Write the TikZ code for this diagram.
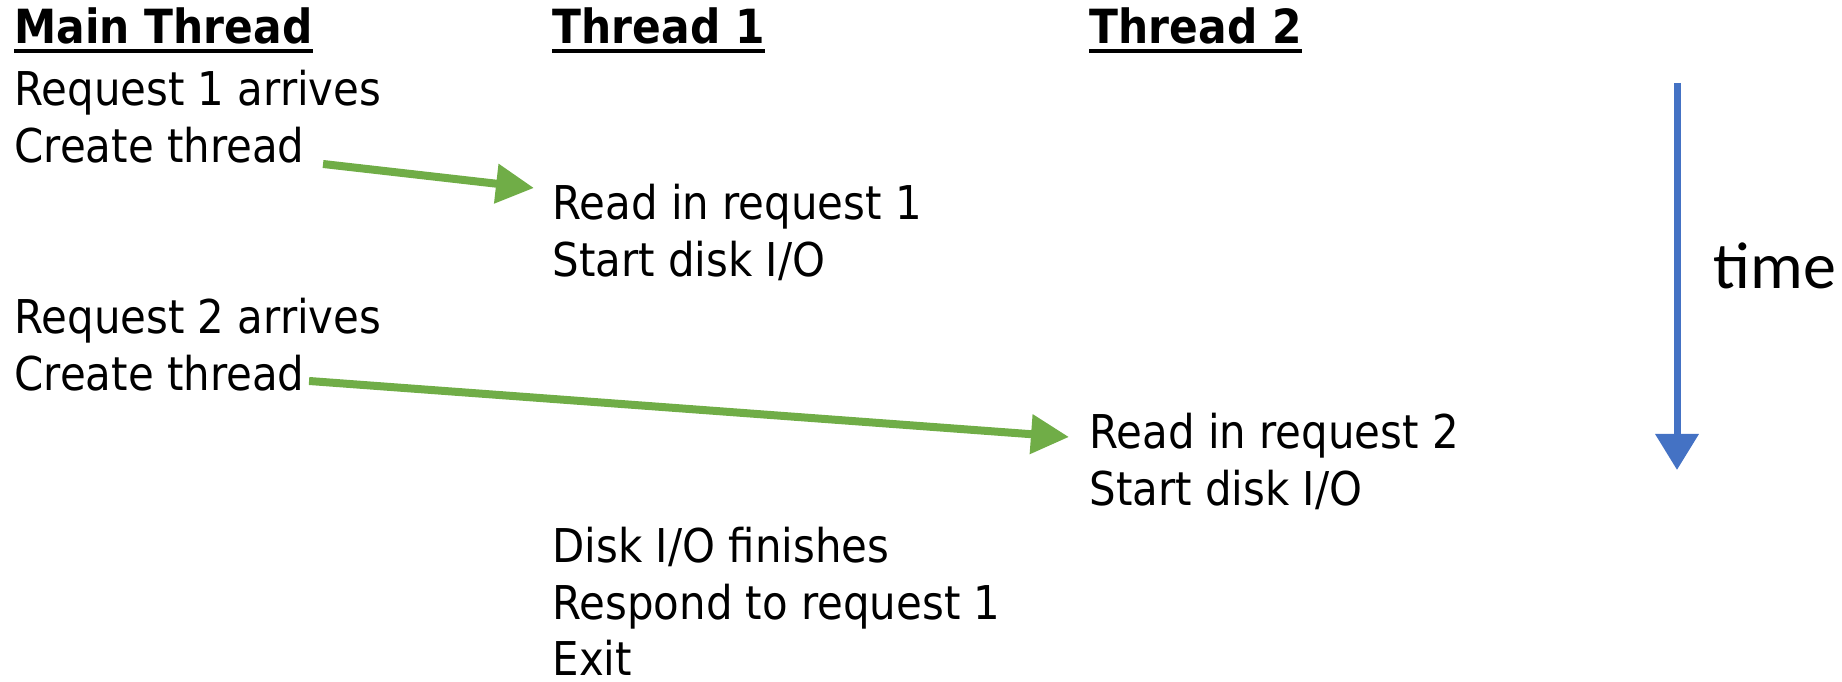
\documentclass[tikz,border=0pt]{standalone}
\usepackage{fontspec}
\setmainfont{DejaVu Sans Condensed}
\newfontfamily\timefont{Carlito}
\usetikzlibrary{arrows.meta,calc}
\definecolor{flowgreen}{HTML}{70AD47}
\definecolor{timeblue}{HTML}{4472C4}
\begin{document}
\begin{tikzpicture}[x=0.1mm,y=-0.1mm,
  txt/.style={inner sep=0pt,anchor=base west,text depth=0pt,font=\fontsize{13.25}{15}\selectfont},
  hdr/.style={txt,font=\fontsize{13.4}{15}\selectfont\bfseries},
  uline/.style={line width=0.38mm},
  spawn/.style={draw=flowgreen,line width=0.8mm,-{Triangle[length=3.8mm,width=3.8mm]}},
  timeline/.style={draw=timeblue,line width=0.7mm,-{Triangle[length=3.6mm,width=4.2mm]}}]
\useasboundingbox (0,0) rectangle (1842,682);

% column headers
\node[hdr] (h0) at (14,44) {Main Thread};
\node[hdr] (h1) at (552,44) {Thread 1};
\node[hdr] (h2) at (1089,44) {Thread 2};
\foreach \h in {h0,h1,h2}
  \draw[uline] ($(\h.base west)+(0,7)$) -- ($(\h.base east)+(0,7)$);

% main thread
\node[txt] (m1) at (14,106) {Request 1 arrives};
\node[txt] (c1) at (14,163) {Create thread};
\node[txt] (m2) at (14,334) {Request 2 arrives};
\node[txt] (c2) at (14,391) {Create thread};

% thread 1
\node[txt] (r1) at (552,220) {Read in request 1};
\node[txt] (s1) at (552,277) {Start disk I/O};
\node[txt] (f1) at (552,563) {Disk I/O finishes};
\node[txt] (p1) at (552,620) {Respond to request 1};
\node[txt] (e1) at (552,676) {Exit};

% thread 2
\node[txt] (r2) at (1089,449) {Read in request 2};
\node[txt] (s2) at (1089,506) {Start disk I/O};

% thread creation
\draw[spawn] ($(c1.base east)+(18,1)$) -- ($(r1.base west)+(-18,-32)$);
\draw[spawn] ($(c2.base east)+(4,-10)$) -- ($(r2.base west)+(-20,-12)$);

% time axis
\coordinate (t0) at (1677,83);
\coordinate (t1) at (1677,470);
\draw[timeline] (t0) -- (t1);
\node[inner sep=0pt,anchor=base west,font=\timefont\fontsize{18.8}{22}\selectfont] (tl) at (1713,289) {time};
\end{tikzpicture}
\end{document}
